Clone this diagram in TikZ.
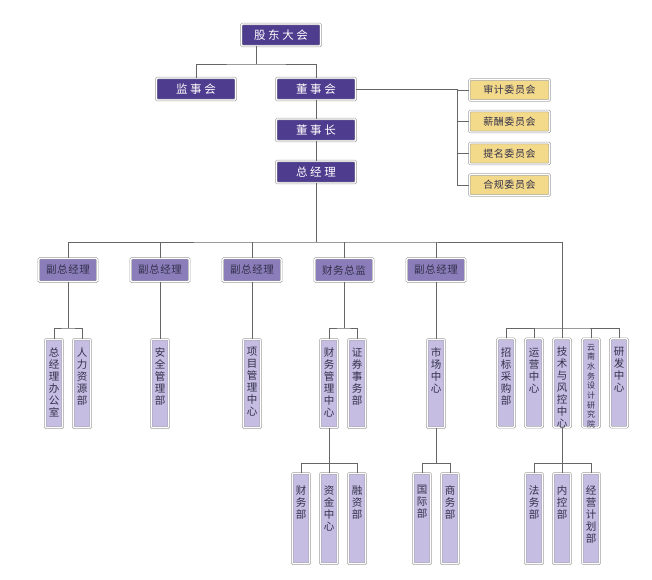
\documentclass[tikz,border=0pt]{standalone}
\usepackage{fontspec}
\setmainfont{Noto Sans CJK SC}
\newfontfamily\cjkwide[LetterSpace=22]{Noto Sans CJK SC}
\newfontfamily\cjkmid[LetterSpace=6]{Noto Sans CJK SC}
\usetikzlibrary{positioning}
\definecolor{orgdark}{HTML}{4E3C8E}
\definecolor{orgmid}{HTML}{8A7DBA}
\definecolor{orglight}{HTML}{C5BDE2}
\definecolor{orgyellow}{HTML}{F3D98A}
\definecolor{orgline}{HTML}{666666}
\definecolor{orgtext}{HTML}{33304A}
\newcommand{\colbox}[2][72pt]{\parbox[c][#1][t]{14pt}{\centering #2}}
\tikzset{every picture/.style={line width=0.9pt}}
\tikzset{
  orgbox/.style={draw=black!38, double=white, double distance=1.2pt, line width=0.6pt,
    rounded corners=1.2pt, inner sep=0pt},
  topbox/.style={orgbox, fill=orgdark, text=white, minimum width=79.5pt, minimum height=22pt,
    font=\cjkwide\fontsize{11.5}{13}\selectfont},
  cmtbox/.style={orgbox, fill=orgyellow, text=orgtext, minimum width=80.5pt, minimum height=21pt,
    font=\cjkmid\fontsize{10}{12}\selectfont},
  lvltwo/.style={orgbox, fill=orgmid, text=orgtext, minimum width=58.5pt, minimum height=23.5pt,
    font=\cjkmid\fontsize{10.5}{12}\selectfont},
  lvlthree/.style={orgbox, fill=orglight, text=orgtext, minimum width=17.5pt, minimum height=88.5pt,
    font=\fontsize{10.5}{12}\selectfont},
  lvlfour/.style={lvlthree, minimum height=90.5pt},
  link/.style={draw=orgline, line width=1pt}
}
\begin{document}
\begin{tikzpicture}[x=1pt, y=-1pt]
  \useasboundingbox (0,0) rectangle (652,579);
  \node[topbox] (gd)  at (281,35)  {股东大会};
  \node[topbox] (jsh) at (196,89)  {监事会};
  \node[topbox] (dsh) at (316,89)  {董事会};
  \node[topbox] (dsz) at (316,130) {董事长};
  \node[topbox] (zjl) at (316,172) {总经理};
  \node[cmtbox] (sj) at (509.5,90)    {审计委员会};
  \node[cmtbox] (xc) at (509.5,121.5) {薪酬委员会};
  \node[cmtbox] (tm) at (509.5,153.5) {提名委员会};
  \node[cmtbox] (hg) at (509.5,185)   {合规委员会};
  \node[lvltwo] (fz1)  at (68,270)  {副总经理};
  \node[lvltwo] (fz2)  at (160,270) {副总经理};
  \node[lvltwo] (fz3)  at (252,270) {副总经理};
  \node[lvltwo] (cwzj) at (344,270) {财务总监};
  \node[lvltwo] (fz4)  at (436,270) {副总经理};
  \node[lvlthree] (zjb)  at (54,383.5)  {\colbox{总\\经\\理\\办\\公\\室}};
  \node[lvlthree] (rlzy) at (82,383.5)  {\colbox{人\\力\\资\\源\\部}};
  \node[lvlthree] (aqgl) at (160,383.5) {\colbox{安\\全\\管\\理\\部}};
  \node[lvlthree] (xmgl) at (252,383.5) {\colbox{项\\目\\管\\理\\中\\心}};
  \node[lvlthree] (cwgl) at (329,383.5) {\colbox{财\\务\\管\\理\\中\\心}};
  \node[lvlthree] (zqsw) at (357,383.5) {\colbox{证\\券\\事\\务\\部}};
  \node[lvlthree] (sczx) at (436,383.5) {\colbox{市\\场\\中\\心}};
  \node[lvlthree] (zbcg) at (506,383)   {\colbox[70pt]{招\\标\\采\\购\\部}};
  \node[lvlthree] (yyzx) at (534,383)   {\colbox[70pt]{运\\营\\中\\心}};
  \node[lvlthree] (jsfk) at (562,383)   {\colbox[72pt]{技\\术\\与\\风\\控\\中\\心}};
  \node[lvlthree] (ynsw) at (591,383)   {\colbox[78pt]{\fontsize{8}{9.7}\selectfont 云\\南\\水\\务\\设\\计\\研\\究\\院}};
  \node[lvlthree] (yfzx) at (619,383)   {\colbox[72pt]{研\\发\\中\\心}};
  \node[lvlfour] (cwb)  at (301,518.5) {\colbox[66pt]{财\\务\\部}};
  \node[lvlfour] (zjzx) at (329,518.5) {\colbox[66pt]{资\\金\\中\\心}};
  \node[lvlfour] (rzb)  at (357,518.5) {\colbox[66pt]{融\\资\\部}};
  \node[lvlfour] (gjb)  at (422,518.5) {\colbox[66pt]{国\\际\\部}};
  \node[lvlfour] (swb)  at (450,518.5) {\colbox[66pt]{商\\务\\部}};
  \node[lvlfour] (fwb)  at (534,518.5) {\colbox[66pt]{法\\务\\部}};
  \node[lvlfour] (nkb)  at (562,518.5) {\colbox[66pt]{内\\控\\部}};
  \node[lvlfour] (jyjh) at (591,518.5) {\colbox[66pt]{经\\营\\计\\划\\部}};
  \coordinate (gdbus)   at (256,64);
  \coordinate (cmtbus)  at (457,89);
  \coordinate (mainbus) at (316,242);
  \coordinate (rbus)    at (562,328);
  \coordinate (lbus)    at (0,463);
  \draw[link] (gdbus) -- (gdbus |- gd.south);
  \draw[link] (jsh.north) |- (gdbus) -| (dsh.north);
  \draw[link] (dsh.east) -- (cmtbus) |- (hg.west);
  \foreach \c in {sj,xc,tm}
    \draw[link] (cmtbus |- \c.west) -- (\c.west);
  \draw[link] (dsh.south) -- (dsz.north);
  \draw[link] (dsz.south) -- (zjl.north);
  \draw[link] (zjl.south) -- (mainbus);
  \draw[link] (fz1.north) |- (mainbus) -| (rbus);
  \foreach \n in {fz2,fz3,cwzj,fz4}
    \draw[link] (\n.north) -- (\n.north |- mainbus);
  \draw[link] (zbcg.north) |- (rbus) -| (yfzx.north);
  \foreach \n in {yyzx,jsfk,ynsw}
    \draw[link] (\n.north) -- (\n.north |- rbus);
  \draw[link] (fz1.south) -- (fz1 |- rbus);
  \draw[link] (zjb.north) |- (fz1 |- rbus) -| (rlzy.north);
  \draw[link] (fz2.south) -- (aqgl.north);
  \draw[link] (fz3.south) -- (xmgl.north);
  \draw[link] (cwzj.south) -- (cwzj |- rbus);
  \draw[link] (cwgl.north) |- (cwzj |- rbus) -| (zqsw.north);
  \draw[link] (fz4.south) -- (sczx.north);
  \draw[link] (cwgl.south) -- (zjzx.north);
  \draw[link] (cwb.north) |- (cwgl |- lbus) -| (rzb.north);
  \draw[link] (sczx.south) -- (sczx |- lbus);
  \draw[link] (gjb.north) |- (sczx |- lbus) -| (swb.north);
  \draw[link] (jsfk.south) -- (nkb.north);
  \draw[link] (fwb.north) |- (jsfk |- lbus) -| (jyjh.north);
\end{tikzpicture}
\end{document}
